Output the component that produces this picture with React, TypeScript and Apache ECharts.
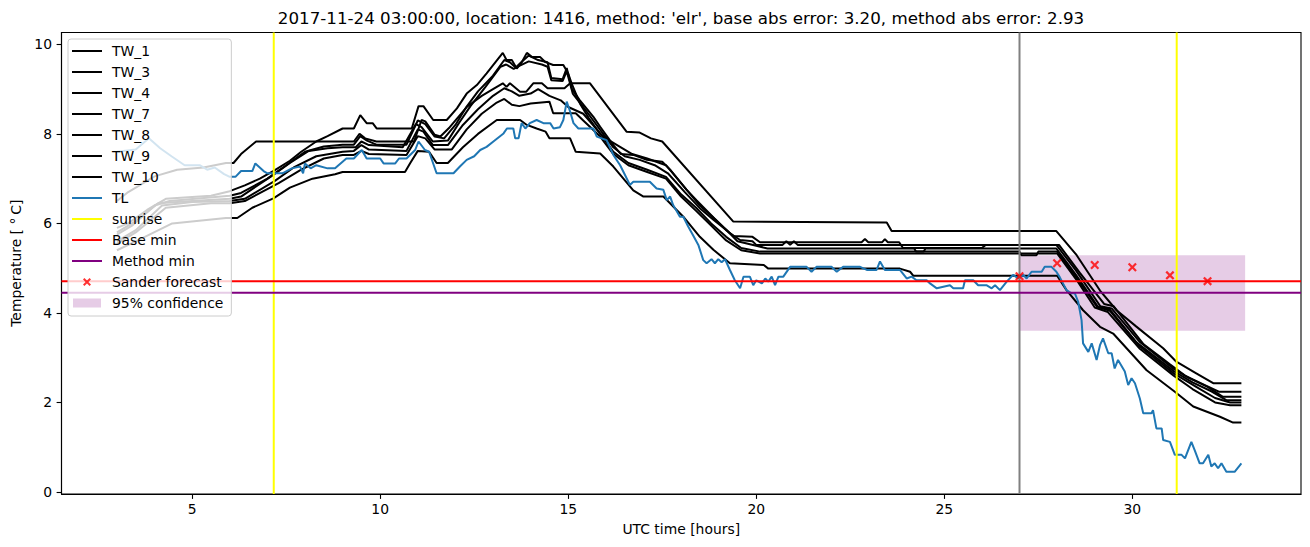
import React, { useEffect, useRef } from "react";
import * as echarts from "echarts";

// ---------- data ----------
const titleText =
  "2017-11-24 03:00:00, location: 1416, method: 'elr', base abs error: 3.20, method abs error: 2.93";

const xTicks = [5, 10, 15, 20, 25, 30];
const yTicks = [0, 2, 4, 6, 8, 10];

const tw1 = [[3.0,5.9],[3.3,6.0],[3.8,6.3],[4.3,6.55],[5.5,6.62],[6.0,6.72],[6.4,6.85],[6.8,7.0],[7.2,7.19],[7.6,7.4],[7.9,7.6],[8.3,7.83],[8.6,7.95],[9.0,8.12],[9.3,8.12],[9.47,8.42],[9.64,8.24],[9.8,8.24],[9.91,8.12],[10.84,8.12],[11.02,8.62],[11.15,8.62],[11.41,8.31],[11.77,8.31],[12.04,8.57],[12.3,8.9],[12.57,9.09],[12.83,9.35],[13.26,9.81],[13.36,9.65],[13.5,9.65],[13.63,9.46],[13.75,9.58],[13.9,9.81],[14.03,9.72],[14.25,9.72],[14.38,9.61],[14.6,9.54],[14.87,9.54],[15.0,9.35],[15.09,9.13],[15.31,8.68],[15.55,8.35],[15.85,8.0],[16.1,7.85],[16.4,7.7],[16.7,7.55],[17.1,7.45],[17.6,7.3],[17.75,7.15],[18.2,6.7],[18.5,6.4],[18.9,6.1],[19.2,5.85],[19.4,5.72],[19.9,5.7],[20.1,5.58],[22.8,5.58],[22.89,5.65],[22.98,5.58],[23.35,5.58],[23.42,5.65],[23.5,5.58],[23.8,5.58],[23.9,5.45],[26.0,5.45],[26.1,5.52],[28.05,5.52],[28.6,4.9],[29.25,4.2],[29.5,4.15],[30.3,3.3],[31.0,2.85],[31.4,2.6],[31.9,2.4],[32.3,2.24],[32.9,2.24]];
const tw3 = [[3.0,5.75],[3.4,5.95],[4.0,6.4],[4.4,6.5],[6.0,6.62],[6.3,6.68],[7.0,7.0],[7.5,7.3],[8.0,7.6],[8.5,7.72],[9.0,7.76],[9.3,7.76],[9.47,7.95],[9.65,7.85],[9.9,7.76],[10.7,7.76],[11.0,8.3],[11.2,8.22],[11.45,7.94],[11.7,7.9],[12.0,8.2],[12.3,8.61],[12.6,8.95],[13.0,9.3],[13.3,9.65],[13.45,9.6],[13.6,9.48],[13.75,9.6],[13.95,9.75],[14.2,9.65],[14.45,9.6],[14.55,9.25],[14.85,9.22],[14.96,9.47],[15.1,9.0],[15.3,8.76],[15.67,8.38],[15.85,8.16],[16.2,7.75],[16.4,7.55],[16.73,7.53],[17.09,7.42],[17.5,7.38],[17.71,7.2],[18.15,6.75],[18.41,6.52],[18.9,6.1],[19.3,5.78],[19.57,5.63],[19.9,5.6],[20.0,5.52],[20.7,5.52],[20.8,5.6],[20.9,5.52],[21.0,5.6],[21.1,5.52],[27.98,5.52],[28.5,4.95],[29.15,4.15],[29.45,4.1],[30.2,3.35],[31.1,2.75],[31.5,2.55],[32.0,2.35],[32.4,2.13],[32.9,2.13]];
const tw4 = [[3.0,5.8],[3.5,6.05],[4.1,6.45],[5.0,6.5],[6.0,6.55],[6.3,6.6],[7.1,7.05],[7.6,7.35],[8.1,7.62],[8.6,7.68],[9.0,7.7],[9.35,7.7],[9.5,7.83],[9.7,7.75],[10.6,7.7],[10.95,8.22],[11.1,8.15],[11.4,7.83],[11.8,7.85],[12.1,8.25],[12.4,8.62],[12.8,9.05],[13.2,9.5],[13.35,9.55],[13.55,9.45],[13.7,9.52],[13.95,9.62],[14.3,9.55],[14.45,9.5],[14.55,9.2],[14.85,9.18],[14.96,9.4],[15.12,8.9],[15.4,8.6],[15.85,8.09],[16.2,7.7],[16.5,7.5],[16.9,7.42],[17.3,7.3],[17.65,7.12],[18.1,6.7],[18.5,6.34],[18.86,6.08],[19.21,5.85],[19.5,5.6],[20.0,5.5],[20.3,5.44],[24.2,5.44],[24.25,5.37],[24.45,5.37],[24.5,5.44],[27.98,5.44],[28.5,4.85],[29.1,4.12],[29.4,4.08],[30.1,3.35],[31.1,2.7],[31.6,2.45],[32.1,2.25],[32.5,2.05],[32.9,2.05]];
const tw7 = [[3.0,6.5],[3.3,6.7],[4.0,7.05],[4.6,7.2],[5.3,7.25],[5.9,7.35],[6.1,7.35],[6.3,7.55],[6.7,7.83],[9.3,7.83],[9.45,8.0],[9.6,7.9],[9.9,7.83],[10.9,7.83],[11.1,8.31],[11.2,8.28],[11.45,7.98],[11.6,7.94],[11.85,8.15],[12.3,8.6],[12.7,8.85],[13.0,9.0],[13.26,9.13],[13.36,9.05],[13.45,9.13],[13.72,8.94],[13.88,8.94],[14.07,9.13],[14.3,9.13],[14.45,9.02],[14.9,9.02],[15.05,9.13],[15.58,9.13],[16.55,8.05],[16.9,8.03],[17.2,7.9],[17.5,7.83],[19.39,6.04],[23.47,6.02],[23.6,5.83],[27.98,5.83],[28.52,5.29],[29.14,4.5],[29.58,4.06],[30.1,3.7],[30.82,3.21],[31.17,2.91],[31.7,2.65],[32.15,2.43],[32.9,2.43]];
const tw8 = [[3.0,5.6],[3.5,5.85],[4.2,6.4],[5.0,6.48],[6.0,6.5],[6.4,6.55],[7.2,6.95],[7.7,7.25],[8.3,7.5],[9.0,7.6],[9.3,7.62],[9.5,7.75],[9.7,7.65],[10.7,7.62],[11.0,8.1],[11.15,8.05],[11.4,7.75],[11.8,7.75],[12.2,8.2],[12.6,8.55],[13.0,8.85],[13.3,9.02],[13.5,8.95],[13.7,8.85],[14.0,8.9],[14.2,9.0],[14.5,8.85],[14.8,8.75],[15.0,8.6],[15.4,8.45],[15.85,8.01],[16.2,7.6],[16.6,7.35],[17.1,7.2],[17.6,7.04],[18.0,6.65],[18.4,6.35],[18.8,6.0],[19.2,5.7],[19.6,5.45],[20.1,5.37],[27.0,5.37],[27.05,5.29],[27.45,5.29],[27.5,5.37],[28.0,5.37],[28.55,4.75],[29.05,4.15],[29.4,4.05],[30.2,3.25],[31.1,2.65],[31.7,2.35],[32.2,2.1],[32.6,2.0],[32.9,2.0]];
const tw9 = [[3.0,5.55],[3.5,5.8],[4.3,6.35],[5.5,6.45],[6.0,6.45],[6.4,6.5],[7.3,6.9],[7.9,7.2],[8.5,7.45],[9.0,7.53],[9.3,7.53],[9.5,7.62],[9.7,7.55],[10.7,7.53],[11.0,7.95],[11.2,7.9],[11.45,7.65],[11.9,7.65],[12.3,8.1],[12.7,8.45],[13.1,8.7],[13.3,8.78],[13.5,8.65],[13.7,8.62],[14.0,8.68],[14.5,8.72],[14.6,8.46],[15.2,8.46],[15.4,8.3],[15.85,7.94],[16.2,7.55],[16.6,7.3],[17.1,7.15],[17.6,7.0],[18.0,6.6],[18.4,6.28],[18.8,5.95],[19.2,5.62],[19.6,5.4],[20.1,5.33],[28.0,5.33],[28.55,4.7],[29.0,4.12],[29.35,4.02],[30.2,3.2],[31.1,2.6],[31.6,2.3],[32.2,2.0],[32.6,1.94],[32.9,1.94]];
const tw10 = [[3.0,5.4],[3.5,5.6],[4.47,6.0],[5.9,6.12],[6.2,6.12],[6.6,6.35],[7.16,6.56],[7.6,6.8],[8.2,7.0],[8.8,7.1],[9.0,7.15],[10.66,7.15],[10.8,7.35],[11.0,7.62],[11.3,7.6],[11.5,7.35],[11.8,7.35],[12.2,7.7],[12.6,8.0],[13.1,8.31],[13.72,8.31],[13.9,8.2],[14.16,8.12],[14.4,8.05],[14.5,7.9],[15.05,7.9],[15.2,7.6],[15.85,7.56],[16.2,7.27],[16.73,6.74],[17.0,6.6],[17.53,6.6],[18.06,6.15],[18.5,5.7],[18.86,5.41],[19.3,5.11],[20.2,5.07],[20.32,4.99],[23.82,4.99],[24.09,4.92],[24.18,4.83],[28.0,4.83],[28.25,4.51],[28.69,4.06],[29.14,3.69],[29.49,3.54],[30.38,2.72],[31.13,2.24],[31.62,1.91],[32.33,1.68],[32.68,1.55],[32.9,1.55]];
const tl = [[3.0,7.6],[3.5,7.65],[3.85,7.9],[4.15,7.68],[4.45,7.5],[4.8,7.3],[5.2,7.3],[5.4,7.2],[5.6,7.25],[5.85,7.1],[6.0,7.04],[6.15,7.04],[6.3,7.17],[6.6,7.17],[6.68,7.34],[6.9,7.17],[7.0,7.12],[7.4,7.12],[7.65,7.23],[7.87,7.27],[7.95,7.12],[8.0,7.34],[8.15,7.23],[8.3,7.3],[8.6,7.23],[8.8,7.23],[9.1,7.45],[9.3,7.45],[9.51,7.64],[9.64,7.45],[10.0,7.45],[10.09,7.34],[10.4,7.34],[10.5,7.45],[10.7,7.45],[10.93,7.64],[11.02,7.83],[11.19,7.64],[11.3,7.6],[11.5,7.12],[11.95,7.12],[12.12,7.27],[12.3,7.42],[12.5,7.5],[12.66,7.64],[12.83,7.71],[13.01,7.83],[13.28,8.01],[13.37,8.12],[13.54,8.12],[13.59,7.9],[13.68,7.9],[13.76,8.24],[13.86,8.12],[13.98,8.24],[14.16,8.31],[14.34,8.24],[14.52,8.24],[14.61,8.12],[14.78,8.15],[14.87,8.31],[14.96,8.72],[15.05,8.5],[15.14,8.24],[15.27,8.12],[15.67,8.12],[15.76,7.94],[16.02,7.86],[16.2,7.53],[16.38,7.3],[16.51,7.08],[16.64,6.86],[16.73,6.93],[17.17,6.93],[17.35,6.78],[17.53,6.75],[17.62,6.52],[17.71,6.6],[17.79,6.41],[17.97,6.15],[18.06,6.15],[18.19,5.93],[18.33,5.72],[18.46,5.52],[18.59,5.18],[18.68,5.11],[18.81,5.2],[18.9,5.11],[18.99,5.2],[19.08,5.13],[19.17,5.2],[19.3,4.96],[19.43,4.73],[19.57,4.55],[19.66,4.81],[19.83,4.81],[19.92,4.62],[20.0,4.73],[20.15,4.66],[20.24,4.77],[20.32,4.7],[20.41,4.81],[20.5,4.62],[20.59,4.81],[20.72,4.81],[20.9,5.03],[21.34,5.03],[21.47,4.92],[21.6,5.03],[22.0,5.03],[22.14,4.92],[22.31,5.03],[22.76,5.03],[22.94,4.96],[23.2,4.96],[23.29,5.15],[23.42,4.96],[23.82,4.96],[24.0,4.77],[24.13,4.81],[24.26,4.73],[24.53,4.73],[24.62,4.66],[24.8,4.55],[25.15,4.62],[25.24,4.55],[25.5,4.55],[25.55,4.73],[25.77,4.73],[25.9,4.62],[26.12,4.62],[26.26,4.55],[26.35,4.62],[26.48,4.51],[26.66,4.7],[26.83,4.85],[26.97,4.77],[27.1,4.85],[27.19,4.77],[27.32,4.92],[27.59,4.92],[27.67,5.03],[27.85,5.03],[27.98,4.92],[28.07,4.8],[28.25,4.51],[28.38,4.44],[28.47,4.44],[28.56,4.25],[28.65,3.84],[28.69,3.32],[28.83,3.13],[28.92,3.32],[29.05,2.95],[29.14,3.28],[29.22,3.43],[29.36,3.1],[29.45,3.1],[29.53,2.76],[29.62,2.95],[29.8,2.69],[29.89,2.39],[29.98,2.54],[30.07,2.43],[30.2,2.09],[30.29,1.76],[30.51,1.76],[30.55,1.83],[30.64,1.42],[30.78,1.42],[30.82,1.16],[31.0,1.12],[31.13,0.83],[31.31,0.83],[31.4,0.75],[31.57,1.12],[31.66,0.93],[31.79,0.64],[31.88,0.64],[32.02,0.83],[32.1,0.57],[32.19,0.64],[32.28,0.53],[32.37,0.64],[32.5,0.45],[32.72,0.45],[32.9,0.64]];

const twNames = ["TW_1", "TW_3", "TW_4", "TW_7", "TW_8", "TW_9", "TW_10"];
const twData = [tw1, tw3, tw4, tw7, tw8, tw9, tw10];

const sunriseHours = [7.17, 31.18];
const forecastHour = 27.0;
const baseMin = 4.71;
const methodMin = 4.45;
const sanderHours = [27, 28, 29, 30, 31, 32];
const sanderValues = [4.82, 5.11, 5.07, 5.02, 4.84, 4.71];
const confidenceFrom = 27.0;
const confidenceTo = 33.0;
const confidenceLow = 3.6;
const confidenceHigh = 5.29;

const legendOrder = [
  "TW_1", "TW_3", "TW_4", "TW_7", "TW_8", "TW_9", "TW_10", "TL",
  "sunrise", "Base min", "Method min", "Sander forecast", "95% confidence",
];

// ---------- layout / style ----------
const X_MIN = 1.526;
const X_MAX = 34.485;
const Y_MIN = -0.045;
const Y_MAX = 10.265;
const FONT = "DejaVu Sans";
const FS = 13.9;
const LW = 2;

const crossSymbol =
  "path://M1.4,0L4,2.6L6.6,0L8,1.4L5.4,4L8,6.6L6.6,8L4,5.4L1.4,8L0,6.6L2.6,4L0,1.4Z";
const boxCorners = "M0,0h0.01v0.01h-0.01zM29.99,13.99h0.01v0.01h-0.01z";
const crossLegendIcon =
  "path://" + boxCorners + "M12.4,3L15,5.6L17.6,3L19,4.4L16.4,7L19,9.6L17.6,11L15,8.4L12.4,11L11,9.6L13.6,7L11,4.4Z";
const rectLegendIcon = "path://" + boxCorners + "M1,2.5h28v9h-28z";
const lineLegendIcon = "path://" + boxCorners + "M0,6h30v2h-30z";

const seriesColors: Record<string, string> = {
  TW_1: "#000000", TW_3: "#000000", TW_4: "#000000", TW_7: "#000000",
  TW_8: "#000000", TW_9: "#000000", TW_10: "#000000", TL: "#1f77b4",
  sunrise: "#ffff00", "Base min": "#ff0000", "Method min": "#800080",
};

export default function App() {
  const ref = useRef<HTMLDivElement>(null);

  useEffect(() => {
    document.body.style.margin = "0";
    if (!ref.current) return;
    const chart = echarts.init(ref.current, null, { renderer: "svg" });

    const lineSeries = (name: string, data: number[][], color: string) => ({
      type: "line",
      name,
      data,
      symbol: "none",
      showSymbol: false,
      lineStyle: { color, width: LW },
      itemStyle: { color },
      z: 2,
    });

    const series: any[] = [];
    twNames.forEach((n, i) => series.push(lineSeries(n, twData[i], seriesColors[n])));
    series.push(lineSeries("TL", tl, seriesColors.TL));
    sunriseHours.forEach((h) =>
      series.push(lineSeries("sunrise", [[h, Y_MIN], [h, Y_MAX]], seriesColors.sunrise))
    );
    series.push(lineSeries("forecast time", [[forecastHour, Y_MIN], [forecastHour, Y_MAX]], "#808080"));
    series.push(lineSeries("Base min", [[X_MIN, baseMin], [X_MAX, baseMin]], seriesColors["Base min"]));
    series.push(lineSeries("Method min", [[X_MIN, methodMin], [X_MAX, methodMin]], seriesColors["Method min"]));
    series.push({
      type: "scatter",
      name: "Sander forecast",
      data: sanderHours.map((h, i) => [h, sanderValues[i]]),
      symbol: crossSymbol,
      symbolSize: 9,
      itemStyle: { color: "#ff0000" },
      z: 3,
    });
    series.push({
      type: "custom",
      name: "95% confidence",
      data: [[confidenceFrom, confidenceTo, confidenceLow, confidenceHigh]],
      encode: { x: [0, 1], y: [2, 3] },
      itemStyle: { color: "rgba(128,0,128,0.2)" },
      z: 1,
      renderItem: (params: any, api: any) => {
        const p1 = api.coord([api.value(0), api.value(3)]);
        const p2 = api.coord([api.value(1), api.value(2)]);
        return {
          type: "rect",
          shape: { x: p1[0], y: p1[1], width: p2[0] - p1[0], height: p2[1] - p1[1] },
          style: { fill: "rgba(128,0,128,0.2)" },
        };
      },
    });

    const legendData = legendOrder.map((n) => {
      if (n === "Sander forecast") return { name: n, icon: crossLegendIcon, itemStyle: { color: "#ff0000" } };
      if (n === "95% confidence") return { name: n, icon: rectLegendIcon, itemStyle: { color: "#e6cce6" } };
      return { name: n, icon: lineLegendIcon, itemStyle: { color: seriesColors[n] } };
    });

    const axisCommon = {
      type: "value",
      splitLine: { show: false },
      axisLine: { show: true, onZero: false, lineStyle: { color: "#000", width: 1.1 } },
      nameTextStyle: { fontFamily: FONT, fontSize: FS, color: "#000" },
    };

    chart.setOption({
      animation: false,
      backgroundColor: "#ffffff",
      textStyle: { fontFamily: FONT },
      grid: {
        left: 61.5,
        right: 9,
        top: 32.5,
        bottom: 53,
        show: true,
        borderColor: "#000",
        borderWidth: 1.1,
        backgroundColor: "transparent",
        outerBoundsMode: "none",
        containLabel: false,
      },
      xAxis: {
        ...axisCommon,
        min: X_MIN,
        max: X_MAX,
        name: "UTC time [hours]",
        nameLocation: "middle",
        nameGap: 28,
        axisTick: { show: true, length: 4.9, customValues: xTicks, lineStyle: { color: "#000", width: 1.1 } },
        axisLabel: { customValues: xTicks, margin: 8, fontFamily: FONT, fontSize: FS, color: "#000" },
      },
      yAxis: {
        ...axisCommon,
        min: Y_MIN,
        max: Y_MAX,
        name: "Temperature [ \u00b0\u2009C]",
        nameLocation: "middle",
        nameGap: 36,
        axisTick: { show: true, length: 4.9, customValues: yTicks, lineStyle: { color: "#000", width: 1.1 } },
        axisLabel: { customValues: yTicks, margin: 9.5, fontFamily: FONT, fontSize: FS, color: "#000" },
      },
      legend: {
        orient: "vertical",
        left: 68,
        top: 39,
        padding: [5, 8, 6, 4],
        itemWidth: 30,
        itemHeight: 14,
        itemGap: 7,
        backgroundColor: "rgba(255,255,255,0.8)",
        borderColor: "#cccccc",
        borderWidth: 1,
        borderRadius: 3,
        selectedMode: false,
        textStyle: { fontFamily: FONT, fontSize: FS, color: "#000", lineHeight: 14, padding: [0, 0, 0, 5] },
        data: legendData,
      },
      graphic: [
        {
          type: "text",
          x: 681,
          y: 18,
          style: {
            text: titleText,
            fontFamily: FONT,
            fontSize: 16.7,
            fill: "#000",
            textAlign: "center",
            textVerticalAlign: "middle",
          },
        },
      ],
      series,
    });

    return () => chart.dispose();
  }, []);

  return <div ref={ref} style={{ width: 1310, height: 547 }} />;
}
